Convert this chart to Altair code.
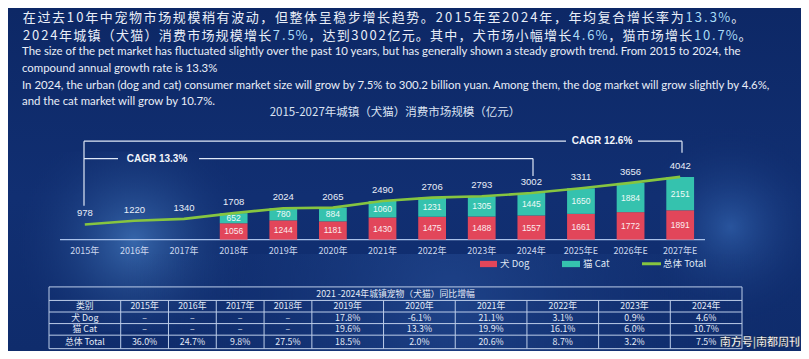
import altair as alt
import pandas as pd

# ---------------- data ----------------
years = ["2015年", "2016年", "2017年", "2018年", "2019年", "2020年", "2021年",
         "2022年", "2023年", "2024年", "2025年E", "2026年E", "2027年E"]
totals = [978, 1220, 1340, 1708, 2024, 2065, 2490, 2706, 2793, 3002, 3311, 3656, 4042]
bar_years = years[3:]
dog = [1056, 1244, 1181, 1430, 1475, 1488, 1557, 1661, 1772, 1891]
cat = [652, 780, 884, 1060, 1231, 1305, 1445, 1650, 1884, 2151]

tbl_header = ["类别", "2015年", "2016年", "2017年", "2018年", "2019年", "2020年",
              "2021年", "2022年", "2023年", "2024年"]
tbl_rows = ["犬 Dog", "猫 Cat", "总体 Total"]
tbl_dog = ["–", "–", "–", "–", "17.8%", "-6.1%", "21.1%", "3.1%", "0.9%", "4.6%"]
tbl_cat = ["–", "–", "–", "–", "19.6%", "13.3%", "19.9%", "16.1%", "6.0%", "10.7%"]
tbl_total = ["36.0%", "24.7%", "9.8%", "27.5%", "18.5%", "2.0%", "20.6%", "8.7%", "3.2%", "7.5%"]

zh_line1 = "在过去10年中宠物市场规模稍有波动，但整体呈稳步增长趋势。2015年至2024年，年均复合增长率为13.3%。"
zh_line2 = "2024年城镇（犬猫）消费市场规模增长7.5%，达到3002亿元。其中，犬市场小幅增长4.6%，猫市场增长10.7%。"
zh_highlights = ["13.3%", "7.5%", "4.6%", "10.7%"]
en_lines = [
    "The size of the pet market has fluctuated slightly over the past 10 years, but has generally shown a steady growth trend. From 2015 to 2024, the",
    "compound annual growth rate is 13.3%",
    "In 2024, the urban (dog and cat) consumer market size will grow by 7.5% to 300.2 billion yuan. Among them, the dog market will grow slightly by 4.6%,",
    "and the cat market will grow by 10.7%.",
]
chart_title = "2015-2027年城镇（犬猫）消费市场规模（亿元）"
table_title = "2021 -2024年城镇宠物（犬猫）同比增幅"
cagr_labels = ["CAGR 13.3%", "CAGR 12.6%"]
legend_labels = ["犬 Dog", "猫 Cat", "总体 Total"]
watermark = "南方号|南都周刊"

# ---------------- layout ----------------
W, H = 793, 343
def X(rx):
    return rx - 8
def Y(ry):
    return (ry - 4) * 0.965 + 1

BG = "#0f2b6b"
TXT = "#e9eef8"
RED = "#e2465a"
TEAL = "#35c2ae"
GREEN = "#86c540"
LINEC = "#dfe8f7"
CJK = "Noto Sans CJK SC"
ENF = "Lato"

one = pd.DataFrame({"k": [0]})

# background
bg = alt.Chart(one).mark_rect(
    color=alt.LinearGradient(gradient="linear", x1=0, y1=0, x2=0, y2=1,
                             stops=[alt.GradientStop(color="#0d2866", offset=0),
                                    alt.GradientStop(color="#112f72", offset=0.55),
                                    alt.GradientStop(color="#0f2c6c", offset=1)])
).encode(x=alt.value(0), x2=alt.value(W), y=alt.value(0), y2=alt.value(H))

def glow(cx, cy, rw, rh, col):
    return alt.Chart(one).mark_rect(
        color=alt.RadialGradient(gradient="radial", x1=0.5, y1=0.5, x2=0.5, y2=0.5, r1=0, r2=0.5,
                                 stops=[alt.GradientStop(color=col, offset=0),
                                        alt.GradientStop(color="rgba(15,43,107,0)", offset=1)])
    ).encode(x=alt.value(max(0, cx - rw)), x2=alt.value(min(W, cx + rw)),
             y=alt.value(max(0, cy - rh)), y2=alt.value(min(H, cy + rh)))

glow1 = glow(X(70), Y(245), 190, 90, "rgba(80,140,210,0.6)")
glow2 = glow(X(790), Y(230), 130, 100, "rgba(70,130,210,0.45)")
glow3 = glow(X(450), Y(320), 330, 60, "rgba(60,110,190,0.32)")

# ---------------- header (per-character layout for spaced Chinese) ----------------
def adv(c):
    if c.isdigit():
        return 0.64
    if c == ".":
        return 0.38
    if c == "%":
        return 0.85
    return 1.0

def layout_line(text, x0, x1, y, hl):
    marks = [False] * len(text)
    for h in hl:
        start = text.find(h)
        if start >= 0:
            for i in range(start, start + len(h)):
                marks[i] = True
    ws = [adv(c) for c in text]
    k = (x1 - x0) / sum(ws)
    rows = []
    acc = 0.0
    for i, c in enumerate(text):
        rows.append({"px": X(x0 + k * (acc + ws[i] / 2)), "py": Y(y), "ch": c,
                     "col": "#a8dcf7" if marks[i] else TXT})
        acc += ws[i]
    return rows

zh_rows = layout_line(zh_line1, 22, 745, 13, zh_highlights) + layout_line(zh_line2, 22, 752, 31.5, zh_highlights)
zh = alt.Chart(pd.DataFrame(zh_rows)).mark_text(
    font=CJK, fontSize=13, align="center", baseline="middle"
).encode(x=alt.X("px:Q", scale=None, axis=None), y=alt.Y("py:Q", scale=None, axis=None),
         text="ch:N", color=alt.Color("col:N", scale=None, legend=None))

en_df = pd.DataFrame({"t": en_lines, "py": [Y(48.5), Y(66), Y(83.5), Y(100.5)]})
en = alt.Chart(en_df).mark_text(
    font=ENF, fontSize=11.4, align="left", baseline="middle", color=TXT
).encode(x=alt.value(X(22)), y=alt.Y("py:Q", scale=None, axis=None), text="t:N")

title = alt.Chart(one).mark_text(
    text=chart_title, font=CJK, fontSize=11.5, align="center", baseline="middle", color="#dbe3f2"
).encode(x=alt.value(X(395)), y=alt.value(Y(112)))

# ---------------- main chart ----------------
xs = alt.Scale(type="band", domain=years, range=[X(60), X(705)], paddingInner=0.44, paddingOuter=0.22)
ys = alt.Scale(domain=[0, 4042], range=[Y(243), Y(178)], nice=False, zero=False)

bdf = pd.DataFrame({"year": bar_years, "dog": dog, "cat": cat})
bdf["top"] = bdf["dog"] + bdf["cat"]
bdf["dmid"] = bdf["dog"] / 2
bdf["cmid"] = bdf["dog"] + bdf["cat"] / 2
bdf["zero"] = 0
tdf = pd.DataFrame({"year": years, "total": totals})

xenc = alt.X("year:N", scale=xs, axis=None)
dog_bar = alt.Chart(bdf).mark_bar(color=RED).encode(
    x=xenc, y=alt.Y("zero:Q", scale=ys, axis=None), y2="dog:Q")
cat_bar = alt.Chart(bdf).mark_bar(color=TEAL).encode(
    x=xenc, y=alt.Y("dog:Q", scale=ys, axis=None), y2="top:Q")
dog_lab = alt.Chart(bdf).mark_text(font="Liberation Sans", fontSize=8.5, color="#fbecef").encode(
    x=xenc, y=alt.Y("dmid:Q", scale=ys, axis=None), text="dog:Q")
cat_lab = alt.Chart(bdf).mark_text(font="Liberation Sans", fontSize=8.5, color="#eefaf8").encode(
    x=xenc, y=alt.Y("cmid:Q", scale=ys, axis=None), text="cat:Q")
tot_line = alt.Chart(tdf).mark_line(color=GREEN, strokeWidth=2.6).encode(
    x=xenc, y=alt.Y("total:Q", scale=ys, axis=None))
tot_lab = alt.Chart(tdf).mark_text(font="Liberation Sans", fontSize=9.5, color=TXT, dy=-11).encode(
    x=xenc, y=alt.Y("total:Q", scale=ys, axis=None), text="total:Q")
xlab = alt.Chart(tdf).mark_text(font=CJK, fontSize=9, color="#cdd8ee", baseline="middle").encode(
    x=xenc, y=alt.value(Y(254.5)), text="year:N")
baseline = alt.Chart(one).mark_rule(color="#a9c1ea", strokeWidth=1.4).encode(
    x=alt.value(X(60)), x2=alt.value(X(705)), y=alt.value(Y(243)))

# CAGR brackets
segs = pd.DataFrame({
    "x": [X(84), X(84), X(638), X(682), X(84), X(199), X(533)],
    "x2": [X(84), X(566), X(682), X(682), X(118), X(533), X(533)],
    "y": [Y(141), Y(141), Y(141), Y(141), Y(159), Y(159), Y(159)],
    "y2": [Y(208), Y(141), Y(141), Y(153), Y(159), Y(159), Y(177)],
})
brackets = alt.Chart(segs).mark_rule(color=LINEC, strokeWidth=1.2).encode(
    x=alt.X("x:Q", scale=None, axis=None), x2="x2:Q",
    y=alt.Y("y:Q", scale=None, axis=None), y2="y2:Q")
cagr_df = pd.DataFrame({"t": cagr_labels, "px": [X(157), X(602)], "py": [Y(159), Y(141)]})
cagr = alt.Chart(cagr_df).mark_text(font="Liberation Sans", fontSize=10, fontWeight="bold",
                                    color="#f2f5fb", baseline="middle").encode(
    x=alt.X("px:Q", scale=None, axis=None), y=alt.Y("py:Q", scale=None, axis=None), text="t:N")

# legend
leg_sw = pd.DataFrame({"x": [X(480), X(562)], "x2": [X(497), X(580)], "c": [RED, TEAL]})
leg_rect = alt.Chart(leg_sw).mark_rect().encode(
    x=alt.X("x:Q", scale=None, axis=None), x2="x2:Q",
    y=alt.value(Y(265)), y2=alt.value(Y(271.5)), color=alt.Color("c:N", scale=None, legend=None))
leg_line = alt.Chart(one).mark_rule(color=GREEN, strokeWidth=3).encode(
    x=alt.value(X(642)), x2=alt.value(X(661)), y=alt.value(Y(268)))
leg_txt_df = pd.DataFrame({"t": legend_labels, "px": [X(500), X(583), X(663)]})
leg_txt = alt.Chart(leg_txt_df).mark_text(font=CJK, fontSize=9.5, align="left", baseline="middle",
                                          color="#dfe6f3").encode(
    x=alt.X("px:Q", scale=None, axis=None), y=alt.value(Y(268.5)), text="t:N")

# ---------------- table ----------------
col_b = [0, 1.5, 2.5, 3.5, 4.5, 5.5, 7, 8.5, 10, 11.5, 13, 14.5]
row_b = [0, 14, 26, 38, 50, 64]
tx = alt.Scale(domain=[0, 14.5], range=[X(49), X(742)], nice=False, zero=False)
ty = alt.Scale(domain=[0, 64], range=[Y(292), Y(356)], nice=False, zero=False)

cells = []
body = [tbl_header, [tbl_rows[0]] + tbl_dog, [tbl_rows[1]] + tbl_cat, [tbl_rows[2]] + tbl_total]
for r, vals in enumerate(body):
    for c, v in enumerate(vals):
        cells.append({"t": v, "cx": (col_b[c] + col_b[c + 1]) / 2,
                      "cy": (row_b[r + 1] + row_b[r + 2]) / 2})
cells.append({"t": table_title, "cx": 7.25, "cy": 7})
cell_df = pd.DataFrame(cells)
tbl_text = alt.Chart(cell_df).mark_text(font=CJK, fontSize=8.8, baseline="middle", color="#e3eaf6").encode(
    x=alt.X("cx:Q", scale=tx, axis=None), y=alt.Y("cy:Q", scale=ty, axis=None), text="t:N")

glines = []
for rb in row_b:
    glines.append({"x": 0, "x2": 14.5, "y": rb, "y2": rb})
for i, cb in enumerate(col_b):
    glines.append({"x": cb, "x2": cb, "y": 0 if i in (0, len(col_b) - 1) else 14, "y2": 64})
grid = alt.Chart(pd.DataFrame(glines)).mark_rule(color="#bccde9", strokeWidth=1).encode(
    x=alt.X("x:Q", scale=tx, axis=None), x2="x2:Q",
    y=alt.Y("y:Q", scale=ty, axis=None), y2="y2:Q")

wm = alt.Chart(one).mark_text(
    text=watermark, font=CJK, fontSize=11, fontWeight="bold", align="right", baseline="middle",
    color="#ffffff", stroke="#0a1530", strokeWidth=0.3
).encode(x=alt.value(W - 1), y=alt.value(Y(350)))

chart = alt.layer(
    bg, glow1, glow2, glow3, zh, en, title,
    baseline, dog_bar, cat_bar, tot_line, dog_lab, cat_lab, tot_lab, xlab,
    brackets, cagr, leg_rect, leg_line, leg_txt,
    grid, tbl_text, wm
).resolve_scale(x="independent", y="independent", color="independent").properties(
    width=W, height=H, padding=0, autosize=alt.AutoSizeParams(type="none"),
    background=BG
).configure_view(stroke=None)

chart.save("out.html", embed_options={"renderer": "svg", "actions": False})
